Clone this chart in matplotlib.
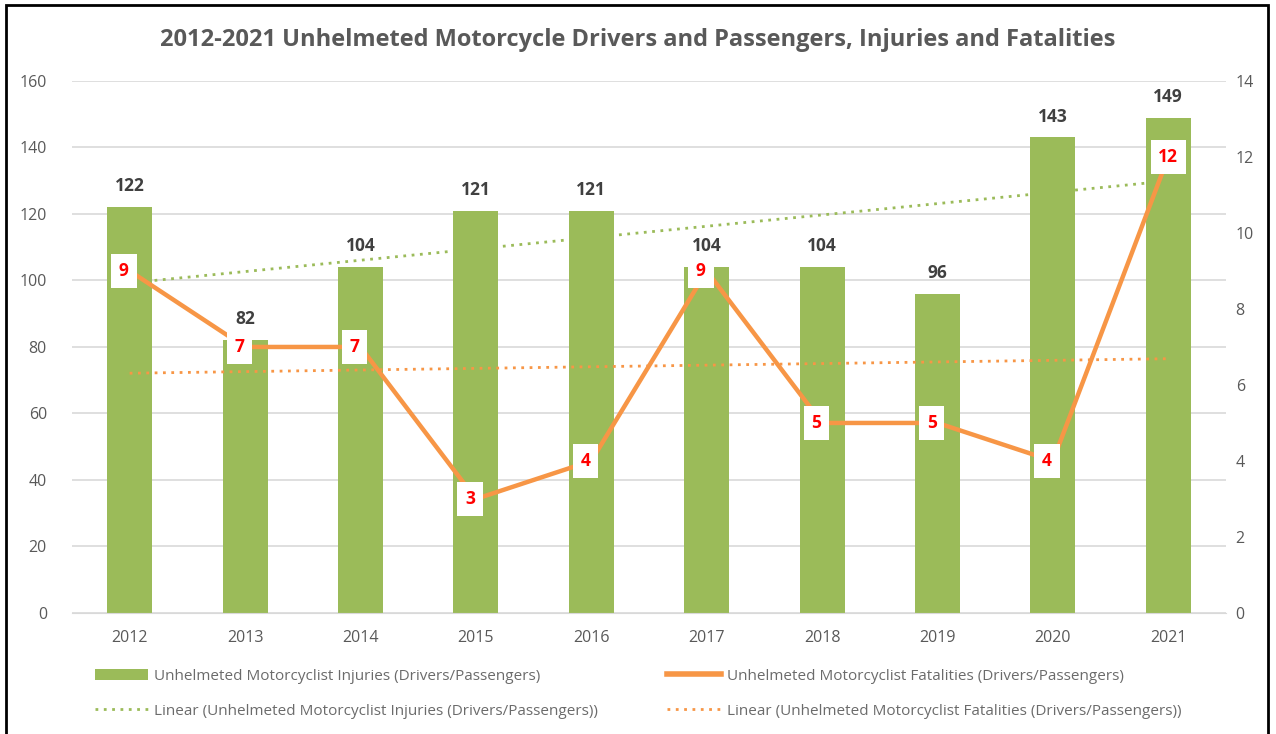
"""Unhelmeted motorcycle injuries (bars) and fatalities (line) with linear trends."""

import matplotlib.pyplot as plt
import numpy as np
from matplotlib.lines import Line2D
from matplotlib.patches import Patch, Rectangle

years = ["2012", "2013", "2014", "2015", "2016", "2017", "2018", "2019", "2020", "2021"]
injuries = [122, 82, 104, 121, 121, 104, 104, 96, 143, 149]
fatalities = [9, 7, 7, 3, 4, 9, 5, 5, 4, 12]

injury_label = "Unhelmeted Motorcyclist Injuries (Drivers/Passengers)"
fatality_label = "Unhelmeted Motorcyclist Fatalities (Drivers/Passengers)"
title = "2012-2021 Unhelmeted Motorcycle Drivers and Passengers, Injuries and Fatalities"

GREEN = "#9BBB59"
ORANGE = "#F79646"
GRAY = "#595959"

plt.rcParams["font.family"] = ["Open Sans", "DejaVu Sans"]

fig = plt.figure(figsize=(12.76, 7.34), dpi=100)
ax = fig.add_axes([0.0564, 0.1649, 0.9044, 0.7248])
ax2 = ax.twinx()

x = np.arange(len(years))

# bars + trend on left axis
ax.bar(x, injuries, width=0.39, color=GREEN, zorder=2)
coef = np.polyfit(x, injuries, 1)
ax.plot(x, np.polyval(coef, x), color=GREEN, linestyle=(0, (1, 2)), linewidth=2, zorder=3)
for xi, v in zip(x, injuries):
    ax.annotate(str(v), (xi, v), xytext=(0, 15), textcoords="offset points",
                ha="center", va="center", fontsize=12.5, fontweight="bold", color="#404040")

# fatalities line + trend on right axis
coef2 = np.polyfit(x, fatalities, 1)
ax2.plot(x, np.polyval(coef2, x), color=ORANGE, linestyle=(0, (1, 2)), linewidth=2, zorder=3)
ax2.plot(x, fatalities, color=ORANGE, linewidth=3.2, zorder=4, solid_capstyle="round")
for xi, v in zip(x, fatalities):
    ax2.text(xi - 0.05 if v < 10 else xi, v, str(v), ha="center", va="center",
             fontsize=12.5, fontweight="bold", color="red", zorder=5,
             bbox={"boxstyle": "square,pad=0.45", "facecolor": "white", "edgecolor": "none"})

ax.set_xlim(-0.5, len(years) - 0.5)
ax.set_ylim(0, 160)
ax.set_yticks(range(0, 161, 20))
ax2.set_ylim(0, 14)
ax2.set_yticks(range(0, 15, 2))
ax.set_xticks(x)
ax.set_xticklabels(years)

ax.grid(axis="y", color="#D9D9D9", linewidth=1.2, zorder=0)
ax.set_axisbelow(True)
for a in (ax, ax2):
    for s in a.spines.values():
        s.set_visible(False)
    a.tick_params(length=0, labelsize=11.5, colors=GRAY)
ax.spines["bottom"].set_visible(True)
ax.spines["bottom"].set_color("#D9D9D9")
ax.tick_params(axis="x", pad=12)
ax.tick_params(axis="y", pad=18)
ax2.tick_params(axis="y", pad=7)

fig.text(0.5, 0.9455, title, ha="center", va="center", fontsize=17,
         fontweight="bold", color=GRAY)

handles = [
    Patch(facecolor=GREEN, edgecolor="none"),
    Line2D([0], [0], color=GREEN, linestyle=(0, (1, 2)), linewidth=2),
    Line2D([0], [0], color=ORANGE, linewidth=4),
    Line2D([0], [0], color=ORANGE, linestyle=(0, (1, 2)), linewidth=2),
]
labels = [injury_label, f"Linear ({injury_label})", fatality_label, f"Linear ({fatality_label})"]
fig.legend(handles, labels, ncol=2, loc="center", bbox_to_anchor=(0.5, 0.055),
           frameon=False, fontsize=11, labelcolor="#6B6B6B", handlelength=3.5,
           handletextpad=0.4, columnspacing=4.5, labelspacing=1.3)

fig.patches.append(Rectangle((6 / 1276, -0.1), 1262 / 1276, 1.1 - 5 / 734,
                             transform=fig.transFigure, fill=False,
                             edgecolor="black", linewidth=2))

fig.savefig("out.png", dpi=100)
